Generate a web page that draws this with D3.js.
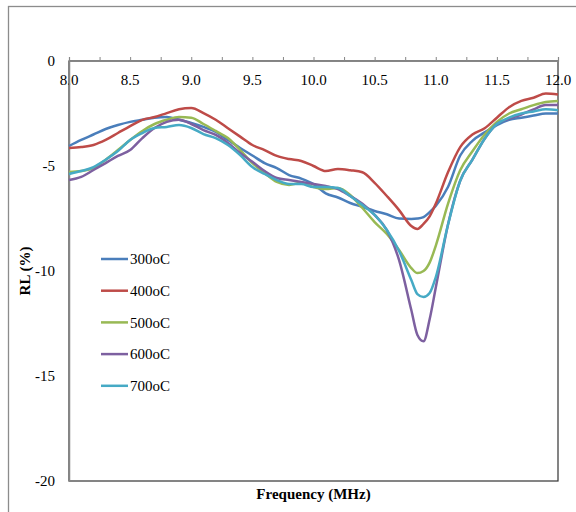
<!DOCTYPE html>
<html>
<head>
<meta charset="utf-8">
<script src="https://cdn.jsdelivr.net/npm/d3@7"></script>
<style>
  body { margin: 0; background: #fff; }
</style>
</head>
<body>
<div id="chart"></div>
<script>
const freq = [8.0, 8.1, 8.2, 8.3, 8.4, 8.5, 8.6, 8.7, 8.8, 8.9,
  9.0, 9.1, 9.2, 9.3, 9.4, 9.5, 9.6, 9.7, 9.8, 9.9,
  10.0, 10.1, 10.2, 10.3, 10.4, 10.5, 10.6, 10.7, 10.8, 10.85, 10.9, 10.95,
  11.0, 11.1, 11.2, 11.3, 11.4, 11.5, 11.6, 11.7, 11.8, 11.9, 12.0];

const rl300 = [-4.05, -3.76, -3.5, -3.24, -3.05, -2.9, -2.8, -2.7, -2.67, -2.8,
  -2.95, -3.14, -3.38, -3.76, -4.14, -4.5, -4.86, -5.1, -5.43, -5.6,
  -5.86, -6.3, -6.5, -6.76, -6.95, -7.14, -7.3, -7.5, -7.52, -7.5, -7.43, -7.2,
  -6.9, -6.0, -4.5, -3.8, -3.4, -3.05, -2.8, -2.7, -2.6, -2.5, -2.5];
const rl400 = [-4.14, -4.1, -4.0, -3.76, -3.43, -3.1, -2.8, -2.67, -2.48, -2.3,
  -2.24, -2.48, -2.8, -3.2, -3.6, -4.0, -4.24, -4.52, -4.67, -4.76,
  -5.0, -5.24, -5.14, -5.2, -5.3, -5.8, -6.43, -7.1, -7.86, -8.0, -7.76, -7.4,
  -6.8, -5.3, -4.1, -3.5, -3.2, -2.7, -2.2, -1.9, -1.75, -1.55, -1.6];
const rl500 = [-5.29, -5.24, -5.1, -4.7, -4.24, -3.76, -3.33, -3.0, -2.8, -2.67,
  -2.7, -3.0, -3.33, -3.67, -4.24, -4.86, -5.33, -5.76, -5.9, -5.8,
  -6.0, -6.1, -6.05, -6.38, -7.0, -7.67, -8.24, -9.0, -9.86, -10.1, -10.0, -9.6,
  -8.8, -6.8, -5.2, -4.3, -3.5, -2.9, -2.5, -2.3, -2.1, -1.95, -1.9];
const rl600 = [-5.67, -5.52, -5.19, -4.86, -4.52, -4.24, -3.67, -3.19, -2.9, -2.8,
  -3.0, -3.29, -3.52, -3.9, -4.38, -4.8, -5.24, -5.57, -5.67, -5.76,
  -5.86, -5.95, -6.1, -6.43, -6.8, -7.33, -8.05, -9.48, -11.86, -13.05, -13.35, -12.3,
  -10.8, -7.8, -5.7, -4.7, -3.7, -3.0, -2.75, -2.55, -2.3, -2.1, -2.1];
const rl700 = [-5.38, -5.24, -5.05, -4.7, -4.29, -3.76, -3.43, -3.19, -3.14, -3.05,
  -3.19, -3.48, -3.67, -4.0, -4.48, -5.05, -5.38, -5.67, -5.86, -5.86,
  -6.0, -6.0, -6.05, -6.43, -6.86, -7.33, -8.05, -9.05, -10.43, -11.1, -11.24, -11.05,
  -10.3, -7.8, -5.7, -4.7, -3.7, -3.0, -2.7, -2.5, -2.4, -2.3, -2.35];

const seriesNames = ["300oC", "400oC", "500oC", "600oC", "700oC"];
const seriesValues = [rl300, rl400, rl500, rl600, rl700];
const xTicks = [8.0, 8.5, 9.0, 9.5, 10.0, 10.5, 11.0, 11.5, 12.0];
const yTicks = [0, -5, -10, -15, -20];

const width = 576;
const height = 512;
const colors = ["#4a7ebb", "#be4b48", "#98b954", "#7d60a0", "#46aac5"];
const font = "'Liberation Serif', 'Times New Roman', serif";

const plot = { left: 69, right: 558, top: 61, bottom: 481 };

const svg = d3.select("#chart")
  .append("svg")
  .attr("width", width)
  .attr("height", height)
  .style("font-family", font);

// chart area border (runs off the picture on right/bottom)
svg.append("rect")
  .attr("x", 8.5)
  .attr("y", 6.5)
  .attr("width", 600)
  .attr("height", 600)
  .attr("fill", "none")
  .attr("stroke", "#8c8c8c")
  .attr("stroke-width", 1.3);

const x = d3.scaleLinear().domain([8, 12]).range([plot.left, plot.right]);
const y = d3.scaleLinear().domain([-20, 0]).range([plot.bottom, plot.top]);

// plot area frame
svg.append("rect")
  .attr("x", plot.left)
  .attr("y", plot.top)
  .attr("width", plot.right - plot.left)
  .attr("height", plot.bottom - plot.top)
  .attr("fill", "none")
  .attr("stroke", "#333")
  .attr("stroke-width", 1.2);

// x axis sits at y = 0 (top), labels below the line
const xAxis = svg.append("g")
  .attr("transform", `translate(0,${y(0)})`)
  .call(d3.axisTop(x).tickValues(d3.range(8, 12.01, 0.25)).tickSize(4).tickFormat(""));
xAxis.select(".domain").attr("stroke", "#868686").attr("stroke-width", 1.2);
xAxis.selectAll(".tick line").attr("stroke", "#868686");

svg.append("g")
  .selectAll("text")
  .data(xTicks)
  .join("text")
  .attr("x", (d) => x(d))
  .attr("y", y(0) + 24)
  .attr("text-anchor", "middle")
  .style("font-size", "15px")
  .attr("fill", "#000")
  .text((d) => d.toFixed(1));

const yAxis = svg.append("g")
  .attr("transform", `translate(${plot.left},0)`)
  .call(d3.axisLeft(y).tickValues(yTicks).tickSize(0).tickPadding(14)
    .tickFormat((d) => String(d)));
yAxis.select(".domain").attr("stroke", "#868686").attr("stroke-width", 1.5);
yAxis.selectAll("text")
  .style("font-family", font)
  .style("font-size", "15px")
  .attr("fill", "#000");

const line = d3.line()
  .x((d) => x(d[0]))
  .y((d) => y(d[1]))
  .curve(d3.curveMonotoneX);

svg.append("g")
  .selectAll("path")
  .data(seriesValues)
  .join("path")
  .attr("d", (vals) => line(freq.map((f, i) => [f, vals[i]])))
  .attr("fill", "none")
  .attr("stroke", (d, i) => colors[i])
  .attr("stroke-width", 2.5)
  .attr("stroke-linejoin", "round");

// legend
const legend = svg.append("g")
  .selectAll("g")
  .data(seriesNames)
  .join("g")
  .attr("transform", (d, i) => `translate(101,${259 + i * 31.7})`);

legend.append("line")
  .attr("x1", 0)
  .attr("x2", 27)
  .attr("stroke", (d, i) => colors[i])
  .attr("stroke-width", 2.5);

legend.append("text")
  .attr("x", 29)
  .attr("dy", "0.35em")
  .style("font-size", "15px")
  .text((d) => d);

// axis titles
svg.append("text")
  .attr("x", (plot.left + plot.right) / 2)
  .attr("y", 499)
  .attr("text-anchor", "middle")
  .style("font-size", "15px")
  .style("font-weight", "bold")
  .text("Frequency (MHz)");

svg.append("text")
  .attr("transform", `translate(30,${(plot.top + plot.bottom) / 2}) rotate(-90)`)
  .attr("text-anchor", "middle")
  .style("font-size", "15px")
  .style("font-weight", "bold")
  .text("RL (%)");
</script>
</body>
</html>
